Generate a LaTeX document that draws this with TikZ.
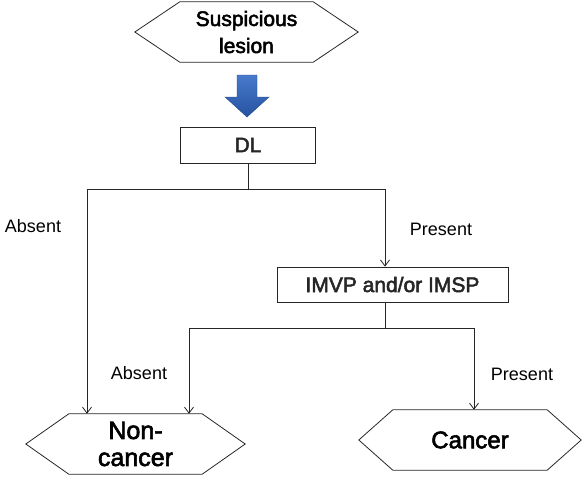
\documentclass[tikz,border=0pt]{standalone}
\usepackage{fontspec}
\setmainfont{Liberation Sans}
\newfontfamily\nodefont[FakeBold=2.5]{Liberation Sans}
\usetikzlibrary{arrows.meta, positioning, calc}

\definecolor{flowbluetop}{RGB}{72,122,204}
\definecolor{flowbluebottom}{RGB}{38,82,160}
\definecolor{flowblueedge}{RGB}{34,70,140}

\tikzset{
  flowline/.style={line width=0.8pt, black!85},
  flowarrow/.style={flowline, -{Straight Barb[length=6pt, width=9pt]}},
  flowbox/.style={draw, line width=0.8pt, black!85, inner sep=0pt, align=center,
    font=\nodefont\fontsize{21}{27}\selectfont},
  hexcore/.style={inner sep=0pt, align=center, minimum height=60pt},
  branchlabel/.style={inner sep=0pt, font=\fontsize{18}{22}\selectfont}
}

\newcommand{\hexoutline}[2]{%
  \draw[flowline] (#1.north west) -- (#1.north east) -- ([xshift=#2]#1.east)
    -- (#1.south east) -- (#1.south west) -- ([xshift=-#2]#1.west) -- cycle;}

\begin{document}
\begin{tikzpicture}[x=1pt, y=-1pt]
  \useasboundingbox (0,0) rectangle (584,477);

  \node[hexcore, minimum width=133pt, font=\nodefont\fontsize{21}{27}\selectfont]
    (lesion) at (246.5,32) {Suspicious\\lesion};
  \hexoutline{lesion}{45pt}

  \coordinate (bluetop) at (247,75);
  \coordinate (bluetip) at (247,117);
  \shade[top color=flowbluetop, bottom color=flowbluebottom, draw=flowblueedge, line width=0.4pt]
    ($(bluetop)+(-10,0)$) -- ($(bluetop)+(10,0)$) -- ($(bluetop)+(10,22)$)
    -- ($(bluetop)+(22,22)$) -- (bluetip) -- ($(bluetop)+(-22,22)$)
    -- ($(bluetop)+(-10,22)$) -- cycle;

  \node[flowbox, minimum width=135pt, minimum height=36pt] (dl) at (248,145) {DL};

  \node[flowbox, minimum width=231pt, minimum height=35pt] (imvp) at (392.5,284.5)
    {IMVP and/or IMSP};

  \node[hexcore, minimum width=133pt, font=\nodefont\fontsize{25}{27}\selectfont]
    (noncancer) at (135.5,444) {Non-\\cancer};
  \hexoutline{noncancer}{43pt}

  \node[hexcore, minimum width=154pt, font=\nodefont\fontsize{24}{27}\selectfont]
    (cancer) at (470,440) {Cancer};
  \hexoutline{cancer}{34pt}

  \coordinate (split1) at (248,189);
  \coordinate (left1) at (87,189);
  \coordinate (right1) at (385,189);
  \draw[flowline] (dl.south) -- (split1);
  \draw[flowline] (left1) -- (right1);
  \draw[flowarrow] (left1) -- (left1 |- noncancer.north);
  \draw[flowarrow] (right1) -- (right1 |- imvp.north);

  \coordinate (split2) at (385,328);
  \coordinate (left2) at (189,328);
  \coordinate (right2) at (474,328);
  \draw[flowline] (split2 |- imvp.south) -- (split2);
  \draw[flowline] (left2) -- (right2);
  \draw[flowarrow] (left2) -- (left2 |- noncancer.north);
  \draw[flowarrow] (right2) -- (right2 |- cancer.north);

  \node[branchlabel] (absent1) at (33,226) {Absent};
  \node[branchlabel] (present1) at (441,229) {Present};
  \node[branchlabel] (absent2) at (139,373) {Absent};
  \node[branchlabel] (present2) at (522,374) {Present};
\end{tikzpicture}
\end{document}
